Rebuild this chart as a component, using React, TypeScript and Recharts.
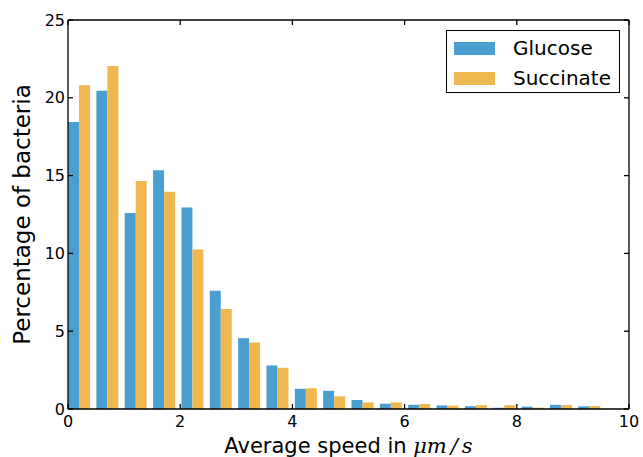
import { Bar, BarChart, Legend, XAxis, YAxis } from "recharts";

// left edges of the histogram bins (speed in µm/s)
const BIN_EDGES = [
    0, 0.5, 1.01, 1.51, 2.02, 2.52, 3.03, 3.53, 4.04, 4.54,
    5.05, 5.55, 6.05, 6.56, 7.06, 7.57, 8.07, 8.58, 9.08,
];

// percentage of bacteria in each bin
const GLUCOSE = [
    18.45, 20.45, 12.6, 15.35, 12.95, 7.6, 4.55, 2.8, 1.3, 1.17,
    0.58, 0.34, 0.27, 0.23, 0.18, 0.08, 0.15, 0.27, 0.17,
];
const SUCCINATE = [
    20.8, 22.05, 14.65, 13.97, 10.25, 6.42, 4.27, 2.65, 1.33, 0.81,
    0.42, 0.42, 0.32, 0.22, 0.25, 0.25, 0.09, 0.25, 0.19,
];

const X_TICKS = [0, 2, 4, 6, 8, 10];
const Y_TICKS = [0, 5, 10, 15, 20, 25];

const BLUE = "#4b9ed0";
const ORANGE = "#efb84e";
const FONT = "DejaVu Sans";

const data = BIN_EDGES.map((edge, i) => ({
    bin: String(i),
    edge,
    glucose: GLUCOSE[i],
    succinate: SUCCINATE[i],
}));

const tickStyle = { fill: "#000", fontSize: 16, fontFamily: FONT };
const blank = () => "";

const XTitle = ({ viewBox }: any) => {
    const { x, y, width } = viewBox;
    return (
        <text x={x + width / 2} y={y + 44} textAnchor="middle" fontFamily={FONT} fontSize={21} fill="#000">
            Average speed in{" "}
            <tspan fontFamily="DejaVu Serif" fontStyle="italic">μm</tspan>
            <tspan fontFamily="DejaVu Serif" fontStyle="italic" dx={4}>/</tspan>
            <tspan fontFamily="DejaVu Serif" fontStyle="italic" dx={4}>s</tspan>
        </text>
    );
};

const YTitle = ({ viewBox }: any) => {
    const { y, height } = viewBox;
    const cy = y + height / 2;
    return (
        <text x={30} y={cy} transform={`rotate(-90, 30, ${cy})`} textAnchor="middle" fontFamily={FONT} fontSize={23} fill="#000">
            Percentage of bacteria
        </text>
    );
};

const LegendBox = () => (
    <div style={{
        width: 174, height: 63, boxSizing: "border-box", border: "1px solid #000", background: "#fff",
        fontFamily: FONT, fontSize: 20, color: "#000", padding: "2px 0 0 7px",
    }}>
        {[["Glucose", BLUE], ["Succinate", ORANGE]].map(([name, color]) => (
            <div key={name} style={{ display: "flex", alignItems: "center", height: 30 }}>
                <span style={{ display: "inline-block", width: 41, height: 13, background: color, marginRight: 18 }} />
                <span style={{ lineHeight: "20px" }}>{name}</span>
            </div>
        ))}
    </div>
);

export default function App() {
    return (
        <div style={{ position: "absolute", left: 0, top: 0 }}>
            <BarChart
                width={643}
                height={457}
                data={data}
                margin={{ top: 19, right: 13, bottom: 0, left: 0 }}
                barCategoryGap="10%"
                barGap={0}
            >
                <XAxis
                    xAxisId="speed"
                    dataKey="edge"
                    type="number"
                    domain={[0, 10]}
                    ticks={X_TICKS}
                    height={48}
                    tick={tickStyle}
                    tickSize={-5}
                    tickMargin={12}
                    stroke="#000"
                    strokeWidth={1.3}
                    label={XTitle}
                />
                {/* bins: hidden band axis, shifted so bars start on each bin's left edge */}
                <XAxis xAxisId="bins" dataKey="bin" type="category" hide height={0} padding={{ left: -2.8, right: 25.2 }} />
                {/* mirrored top / right axes close the frame with inward ticks */}
                <XAxis
                    xAxisId="top"
                    dataKey="edge"
                    orientation="top"
                    type="number"
                    domain={[0, 10]}
                    ticks={X_TICKS}
                    height={1}
                    tickSize={-5}
                    tickFormatter={blank}
                    stroke="#000"
                    strokeWidth={1.3}
                />
                <YAxis
                    domain={[0, 25]}
                    ticks={Y_TICKS}
                    width={68}
                    tick={tickStyle}
                    tickSize={-5}
                    tickMargin={8}
                    stroke="#000"
                    strokeWidth={1.3}
                    label={YTitle}
                />
                <YAxis
                    yAxisId="right"
                    dataKey="glucose"
                    orientation="right"
                    domain={[0, 25]}
                    ticks={Y_TICKS}
                    width={1}
                    tickSize={-5}
                    tickFormatter={blank}
                    stroke="#000"
                    strokeWidth={1.3}
                />
                <Legend content={LegendBox} layout="vertical" verticalAlign="middle" align="center" wrapperStyle={{ left: 446, top: 30, width: 174 }} />
                <Bar xAxisId="bins" dataKey="glucose" name="Glucose" fill={BLUE} isAnimationActive={false} />
                <Bar xAxisId="bins" dataKey="succinate" name="Succinate" fill={ORANGE} isAnimationActive={false} />
            </BarChart>
        </div>
    );
}
